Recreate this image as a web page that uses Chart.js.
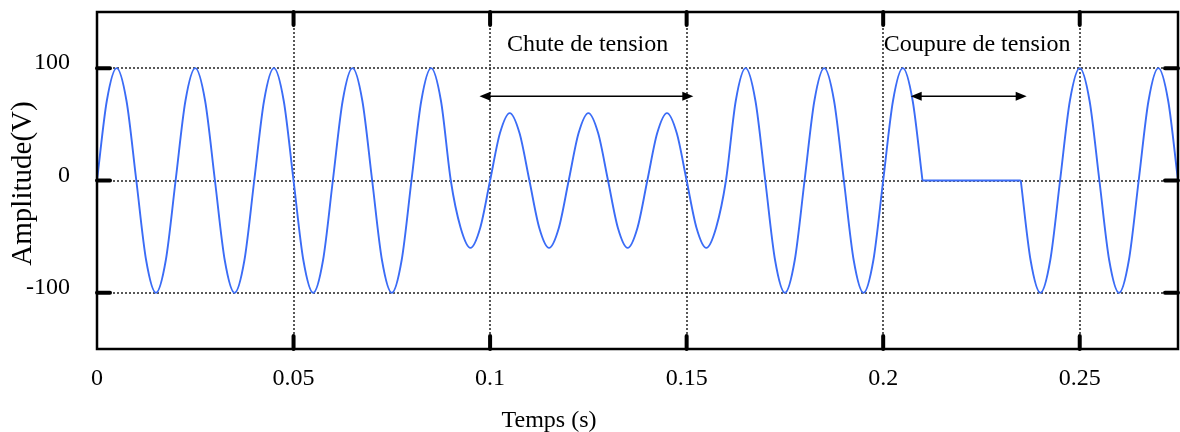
<!DOCTYPE html>
<html>
<head>
<meta charset="utf-8">
<script src="https://cdn.jsdelivr.net/npm/chart.js@4"></script>
<style>
html, body { margin: 0; padding: 0; background: #fff; }
#wrap { width: 1180px; height: 432px; }
</style>
</head>
<body>
<div id="wrap"><canvas id="chart" width="1180" height="432"></canvas></div>
<script>
"use strict";

// sample times (s), one row per 20 ms period
const times = [
    0, 0.0025, 0.005, 0.0075, 0.01, 0.0125, 0.015, 0.0175,
    0.02, 0.0225, 0.025, 0.0275, 0.03, 0.0325, 0.035, 0.0375,
    0.04, 0.0425, 0.045, 0.0475, 0.05, 0.0525, 0.055, 0.0575,
    0.06, 0.0625, 0.065, 0.0675, 0.07, 0.0725, 0.075, 0.0775,
    0.08, 0.0825, 0.085, 0.0875, 0.09, 0.0925, 0.095, 0.0975,
    0.1, 0.1025, 0.105, 0.1075, 0.11, 0.1125, 0.115, 0.1175,
    0.12, 0.1225, 0.125, 0.1275, 0.13, 0.1325, 0.135, 0.1375,
    0.14, 0.1425, 0.145, 0.1475, 0.15, 0.1525, 0.155, 0.1575,
    0.16, 0.1625, 0.165, 0.1675, 0.17, 0.1725, 0.175, 0.1775,
    0.18, 0.1825, 0.185, 0.1875, 0.19, 0.1925, 0.195, 0.1975,
    0.2, 0.2025, 0.205, 0.2075, 0.21, 0.2125, 0.215, 0.2175,
    0.22, 0.2225, 0.225, 0.2275, 0.23, 0.2325, 0.235, 0.2375,
    0.24, 0.2425, 0.245, 0.2475, 0.25, 0.2525, 0.255, 0.2575,
    0.26, 0.2625, 0.265, 0.2675, 0.27, 0.2725, 0.275
];

// voltage (V), same rows as above
const volts = [
    0, 71, 100, 71, 0, -71, -100, -71,
    0, 71, 100, 71, 0, -71, -100, -71,
    0, 71, 100, 71, 0, -71, -100, -71,
    0, 71, 100, 71, 0, -71, -100, -71,
    0, 71, 100, 71, 0, -42, -60, -42,
    0, 42, 60, 42, 0, -42, -60, -42,
    0, 42, 60, 42, 0, -42, -60, -42,
    0, 42, 60, 42, 0, -42, -60, -42,
    0, 71, 100, 71, 0, -71, -100, -71,
    0, 71, 100, 71, 0, -71, -100, -71,
    0, 71, 100, 71, 0, 0, 0, 0,
    0, 0, 0, 0, 0, 0, 0, -71,
    -100, -71, 0, 71, 100, 71, 0, -71,
    -100, -71, 0, 71, 100, 71, 0
];

const xTicks = [0, 0.05, 0.1, 0.15, 0.2, 0.25];
const yTicks = [-100, 0, 100];

// the supply is cut between these two times
const cutStart = 0.21;
const cutEnd = 0.235;

// annotations (label centre and arrow span, in axis units)
const notes = ["Chute de tension", "Coupure de tension"];
const noteX = [0.1248, 0.2239];
const noteY = [115, 115];
const arrowFrom = [0.0973, 0.207];
const arrowTo = [0.1517, 0.2365];
const arrowY = [75, 75];

const SERIF = "'Liberation Serif', 'Times New Roman', serif";
const INK = "#000";
const WAVE = "#3b6cf6";

const points = times.map((t, i) => ({ x: t, y: volts[i] }));
const iCut = times.indexOf(cutStart);
const iBack = times.indexOf(cutEnd);
const pieces = [
    points.slice(0, iCut + 1),
    points.slice(iCut, iBack + 1),
    points.slice(iBack)
];

function drawArrow(ctx, x1, x2, y) {
    const len = 11;
    const half = 4.5;
    ctx.beginPath();
    ctx.moveTo(x1 + len - 2, y);
    ctx.lineTo(x2 - len + 2, y);
    ctx.stroke();
    ctx.beginPath();
    ctx.moveTo(x1, y);
    ctx.lineTo(x1 + len, y - half);
    ctx.lineTo(x1 + len, y + half);
    ctx.closePath();
    ctx.fill();
    ctx.beginPath();
    ctx.moveTo(x2, y);
    ctx.lineTo(x2 - len, y - half);
    ctx.lineTo(x2 - len, y + half);
    ctx.closePath();
    ctx.fill();
}

const framePlugin = {
    id: "frame",
    beforeDatasetsDraw(chart) {
        const { ctx, chartArea: a, scales } = chart;
        ctx.save();
        ctx.strokeStyle = "#222";
        ctx.lineWidth = 1.5;
        ctx.setLineDash([2, 2]);
        for (const v of xTicks) {
            if (v === 0) {
                continue;
            }
            const px = Math.round(scales.x.getPixelForValue(v));
            ctx.beginPath();
            ctx.moveTo(px, a.top);
            ctx.lineTo(px, a.bottom);
            ctx.stroke();
        }
        for (const v of yTicks) {
            const py = Math.round(scales.y.getPixelForValue(v));
            ctx.beginPath();
            ctx.moveTo(a.left, py);
            ctx.lineTo(a.right, py);
            ctx.stroke();
        }
        ctx.restore();
    },
    afterDatasetsDraw(chart) {
        const { ctx, chartArea: a, scales } = chart;
        ctx.save();

        // box
        ctx.strokeStyle = "#000";
        ctx.lineWidth = 2.5;
        ctx.strokeRect(a.left, a.top, a.right - a.left, a.bottom - a.top);

        // inward tick marks on all four sides
        ctx.lineWidth = 4;
        ctx.lineCap = "round";
        const tl = 13;
        for (const v of xTicks) {
            if (v === 0) {
                continue;
            }
            const px = scales.x.getPixelForValue(v);
            ctx.beginPath();
            ctx.moveTo(px, a.bottom);
            ctx.lineTo(px, a.bottom - tl);
            ctx.moveTo(px, a.top);
            ctx.lineTo(px, a.top + tl);
            ctx.stroke();
        }
        for (const v of yTicks) {
            const py = scales.y.getPixelForValue(v);
            ctx.beginPath();
            ctx.moveTo(a.left, py);
            ctx.lineTo(a.left + tl, py);
            ctx.moveTo(a.right, py);
            ctx.lineTo(a.right - tl, py);
            ctx.stroke();
        }
        ctx.lineCap = "butt";

        // arrows and their labels
        ctx.fillStyle = "#000";
        ctx.strokeStyle = "#000";
        ctx.lineWidth = 1.7;
        notes.forEach((text, i) => {
            drawArrow(ctx,
                scales.x.getPixelForValue(arrowFrom[i]),
                scales.x.getPixelForValue(arrowTo[i]),
                scales.y.getPixelForValue(arrowY[i]));
        });
        ctx.fillStyle = INK;
        ctx.font = `24px ${SERIF}`;
        ctx.textAlign = "center";
        ctx.textBaseline = "alphabetic";
        notes.forEach((text, i) => {
            ctx.fillText(text, scales.x.getPixelForValue(noteX[i]), scales.y.getPixelForValue(noteY[i]));
        });

        // axis titles
        ctx.fillText("Temps (s)", scales.x.getPixelForValue(0.115), 427);
        ctx.font = `29px ${SERIF}`;
        ctx.translate(23, (a.top + a.bottom) / 2 + 3);
        ctx.rotate(-Math.PI / 2);
        ctx.textBaseline = "middle";
        ctx.fillText("Amplitude(V)", 0, 0);
        ctx.restore();
    }
};

const tickFont = { family: SERIF, size: 24 };

new Chart(document.getElementById("chart"), {
    type: "line",
    data: {
        datasets: pieces.map((data, i) => ({
            data,
            borderColor: WAVE,
            borderWidth: 1.9,
            pointRadius: 0,
            fill: false,
            cubicInterpolationMode: i === 1 ? "default" : "monotone",
            tension: 0
        }))
    },
    options: {
        responsive: false,
        animation: false,
        devicePixelRatio: 1,
        layout: { padding: { top: 12, right: 2, left: 0, bottom: 0 } },
        plugins: {
            legend: { display: false },
            tooltip: { enabled: false }
        },
        scales: {
            x: {
                type: "linear",
                min: 0,
                max: 0.275,
                grid: { display: false },
                border: { display: false },
                ticks: {
                    font: tickFont,
                    color: INK,
                    padding: 7,
                    maxRotation: 0,
                    callback: (v) => String(v)
                },
                afterBuildTicks: (s) => {
                    s.ticks = xTicks.map((value) => ({ value }));
                },
                afterFit: (s) => {
                    s.height = 83;
                    s.paddingLeft = 0;
                    s.paddingRight = 0;
                }
            },
            y: {
                type: "linear",
                min: -150,
                max: 150,
                grid: { display: false },
                border: { display: false },
                ticks: {
                    font: tickFont,
                    color: INK,
                    padding: 19,
                    labelOffset: -5,
                    callback: (v) => String(v)
                },
                afterBuildTicks: (s) => {
                    s.ticks = yTicks.map((value) => ({ value }));
                },
                afterFit: (s) => {
                    s.width = 97;
                    s.paddingTop = 0;
                    s.paddingBottom = 0;
                }
            }
        }
    },
    plugins: [framePlugin]
});
</script>
</body>
</html>
